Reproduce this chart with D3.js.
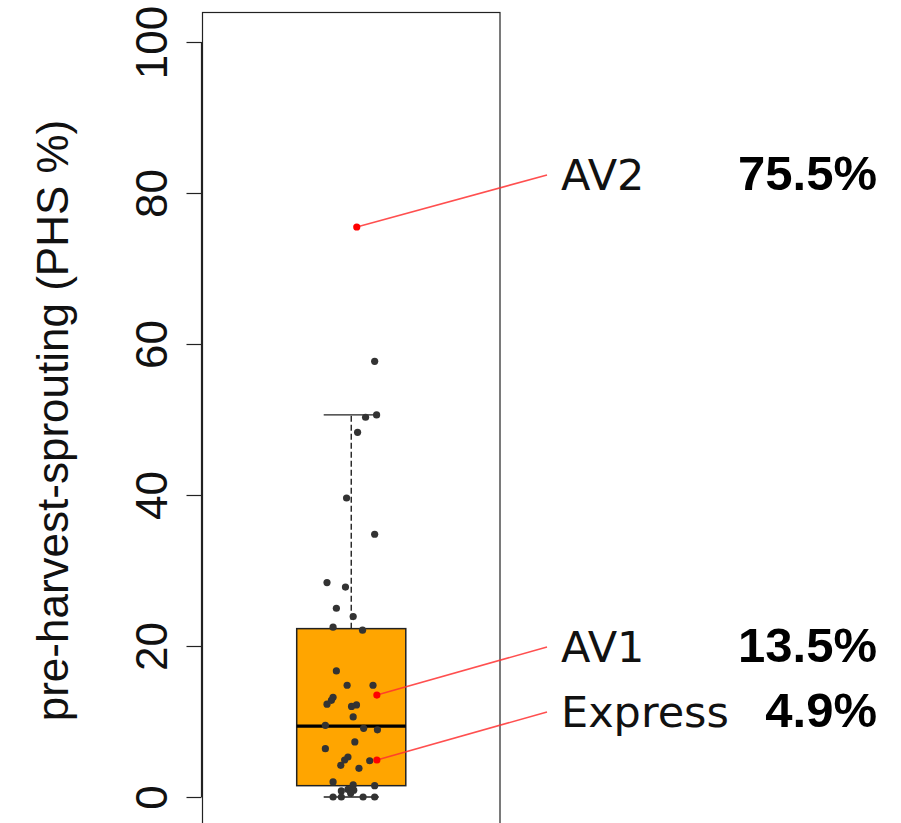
<!DOCTYPE html>
<html>
<head>
<meta charset="utf-8">
<script src="https://cdn.jsdelivr.net/npm/d3@7"></script>
<style>
  body { margin: 0; background: #fff; }
  svg { display: block; }
</style>
</head>
<body>
<div id="chart"></div>
<script>
// values
const phsValues = [57.7, 50.6, 50.3, 48.3, 39.6, 34.8, 28.4, 27.8, 25.0, 23.9, 22.5, 22.1,
  16.7, 14.8, 14.8, 13.2, 12.8, 12.3, 12.2, 12.0, 10.6, 9.5, 9.1, 8.9, 7.3, 6.4, 5.3, 4.9,
  4.2, 4.8, 3.8, 2.0, 1.6, 1.5, 1.0, 0.9, 0.8, 0.5, 0, 0, 0, 0];
// jittered x position of each point (group sits at 1)
const phsJitter = [1.085, 1.092, 1.052, 1.023, 0.983, 1.085, 0.912, 0.979, 0.946, 1.007, 0.934, 1.041,
  0.946, 0.985, 1.079, 0.934, 0.928, 0.912, 1.019, 1.001, 1.007, 0.906, 1.045, 1.095, 1.013, 0.906, 0.988, 0.976,
  0.962, 1.067, 1.028, 0.934, 1.007, 1.085, 0.988, 1.009, 0.964, 0.998, 0.934, 0.964, 1.043, 1.085];

// box statistics
const boxStats = { lower: 0, q1: 1.5, median: 9.4, q3: 22.3, upper: 50.6 };

// highlighted varieties
const varieties = ["AV2", "AV1", "Express"];
const varietyValues = [75.5, 13.5, 4.9];
const varietyJitter = [1.02, 1.093, 1.093];
const varietyLabels = ["75.5%", "13.5%", "4.9%"];

const yTicks = [0, 20, 40, 60, 80, 100];

const W = 901, H = 823;
const frame = { left: 202.5, right: 500, top: 12.5, bottom: 827 };

const svg = d3.select("#chart")
  .append("svg")
    .attr("width", W)
    .attr("height", H);

const y = d3.scaleLinear().domain([0, 100]).range([797, 42]);
const x = d3.scaleLinear().domain([0.46, 1.54]).range([frame.left, frame.right]);

const boxW = 0.396, capW = 0.2;

// frame
svg.append("rect")
  .attr("x", frame.left).attr("y", frame.top)
  .attr("width", frame.right - frame.left).attr("height", frame.bottom - frame.top)
  .attr("fill", "none").attr("stroke", "#222").attr("stroke-width", 1.2);

// y axis
const yAxis = svg.append("g")
  .attr("transform", `translate(${frame.left - 1},0)`)
  .call(d3.axisLeft(y).tickValues(yTicks).tickSize(15).tickFormat(d3.format("d")).tickPadding(0));
yAxis.select(".domain").attr("stroke", "#222").attr("stroke-width", 1.2).attr("d", `M0,${y(0)}V${y(100)}`);
yAxis.selectAll(".tick line").attr("stroke", "#222").attr("stroke-width", 1.2);
yAxis.selectAll(".tick text")
  .attr("transform", "rotate(-90)")
  .attr("x", 0).attr("y", -35)
  .attr("dy", 0)
  .attr("text-anchor", "middle")
  .style("font-family", "'Liberation Sans', Arial, sans-serif")
  .style("font-size", "44px")
  .attr("fill", "#111");

// y label
svg.append("text")
  .attr("transform", `translate(68,${(y(0) + y(100)) / 2 + 1}) rotate(-90)`)
  .attr("text-anchor", "middle")
  .style("font-family", "'Liberation Sans', Arial, sans-serif")
  .style("font-size", "44px")
  .attr("fill", "#111")
  .text("pre-harvest-sprouting (PHS %)");

// whiskers
const g = svg.append("g");
g.append("line")
  .attr("x1", x(1)).attr("x2", x(1))
  .attr("y1", y(boxStats.q3)).attr("y2", y(boxStats.upper))
  .attr("stroke", "#222").attr("stroke-width", 1.4).attr("stroke-dasharray", "6,3");
g.append("line")
  .attr("x1", x(1)).attr("x2", x(1))
  .attr("y1", y(boxStats.q1)).attr("y2", y(boxStats.lower))
  .attr("stroke", "#222").attr("stroke-width", 1.4).attr("stroke-dasharray", "6,3");
[boxStats.upper, boxStats.lower].forEach(v => {
  g.append("line")
    .attr("x1", x(1 - capW / 2)).attr("x2", x(1 + capW / 2))
    .attr("y1", y(v)).attr("y2", y(v))
    .attr("stroke", "#222").attr("stroke-width", 1.3);
});

// box
g.append("rect")
  .attr("x", x(1 - boxW / 2)).attr("width", x(1 + boxW / 2) - x(1 - boxW / 2))
  .attr("y", y(boxStats.q3)).attr("height", y(boxStats.q1) - y(boxStats.q3))
  .attr("fill", "#FFA500").attr("stroke", "#222").attr("stroke-width", 1.5);
g.append("line")
  .attr("x1", x(1 - boxW / 2)).attr("x2", x(1 + boxW / 2))
  .attr("y1", y(boxStats.median)).attr("y2", y(boxStats.median))
  .attr("stroke", "#000").attr("stroke-width", 3.2);

// jittered points
g.selectAll("circle.pt")
  .data(phsValues)
  .join("circle")
    .attr("class", "pt")
    .attr("cx", (d, i) => x(phsJitter[i]))
    .attr("cy", d => y(d))
    .attr("r", 3.6)
    .attr("fill", "#333");

// highlighted varieties + callouts
const labelY = [175, 647, 712];   // where the callout lines end
const labelX = 547;
varieties.forEach((name, i) => {
  const cx = x(varietyJitter[i]), cy = y(varietyValues[i]);
  svg.append("line")
    .attr("x1", cx).attr("y1", cy)
    .attr("x2", labelX).attr("y2", labelY[i])
    .attr("stroke", "#ff3030").attr("stroke-opacity", 0.85).attr("stroke-width", 1.6);
  svg.append("circle")
    .attr("cx", cx).attr("cy", cy).attr("r", 3.6).attr("fill", "#ff0000");
  svg.append("text")
    .attr("x", 561).attr("y", labelY[i] + 14.5)
    .style("font-family", "'DejaVu Sans', sans-serif")
    .style("font-size", "43px")
    .attr("fill", "#111")
    .text(name);
  svg.append("text")
    .attr("x", 877).attr("y", labelY[i] + 14.5)
    .attr("text-anchor", "end")
    .style("font-family", "'Liberation Sans', Arial, sans-serif")
    .style("font-weight", "bold")
    .style("font-size", "49px")
    .attr("fill", "#000")
    .text(varietyLabels[i]);
});
</script>
</body>
</html>
